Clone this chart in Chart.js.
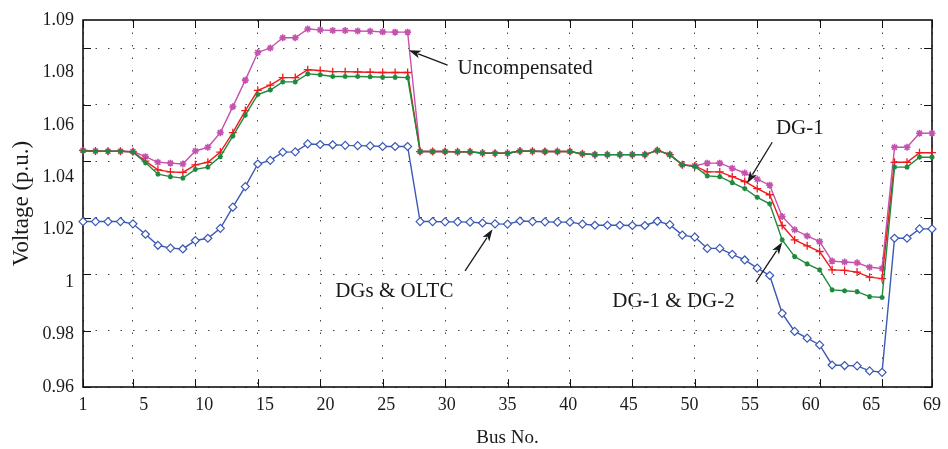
<!DOCTYPE html>
<html><head><meta charset="utf-8">
<script src="https://cdn.jsdelivr.net/npm/chart.js@4.4.1/dist/chart.umd.min.js"></script>
<style>html,body{margin:0;padding:0;background:#fff;}#wrap{width:948px;height:449px;}</style>
</head><body><div id="wrap"><canvas id="c" width="948" height="449"></canvas></div>
<script>
// ---- data ----
const buses = [1,2,3,4,5,6,7,8,9,10,11,12,13,14,15,16,17,18,19,20,21,22,23,24,25,26,27,28,29,30,
  31,32,33,34,35,36,37,38,39,40,41,42,43,44,45,46,47,48,49,50,51,52,53,54,55,56,57,58,59,60,
  61,62,63,64,65,66,67,68,69];

const uncompensated = [1.0438,1.0436,1.0435,1.0435,1.0434,1.0416,1.0396,1.0393,1.0390,1.0436,
  1.0449,1.0501,1.0593,1.0687,1.0785,1.0801,1.0837,1.0837,1.0868,1.0865,
  1.0863,1.0863,1.0861,1.0860,1.0858,1.0857,1.0857,1.0434,1.0434,1.0434,
  1.0433,1.0433,1.0429,1.0428,1.0428,1.0436,1.0435,1.0434,1.0434,1.0434,
  1.0426,1.0423,1.0423,1.0423,1.0423,1.0423,1.0438,1.0423,1.0387,1.0384,
  1.0393,1.0393,1.0375,1.0358,1.0336,1.0315,1.0204,1.0157,1.0135,1.0115,
  1.0046,1.0043,1.0040,1.0024,1.0020,1.0449,1.0449,1.0499,1.0499];

const dg1 = [1.0438,1.0436,1.0435,1.0435,1.0433,1.0400,1.0369,1.0362,1.0360,1.0387,
  1.0396,1.0432,1.0501,1.0579,1.0651,1.0669,1.0696,1.0696,1.0724,1.0721,
  1.0717,1.0717,1.0716,1.0715,1.0714,1.0714,1.0714,1.0434,1.0434,1.0434,
  1.0433,1.0433,1.0429,1.0428,1.0428,1.0436,1.0435,1.0434,1.0434,1.0434,
  1.0426,1.0423,1.0423,1.0423,1.0423,1.0423,1.0438,1.0423,1.0387,1.0383,
  1.0362,1.0362,1.0345,1.0328,1.0303,1.0281,1.0172,1.0121,1.0100,1.0080,
  1.0015,1.0013,1.0007,0.9989,0.9984,1.0396,1.0396,1.0430,1.0430];

const dg1dg2 = [1.0436,1.0435,1.0435,1.0435,1.0432,1.0395,1.0354,1.0345,1.0340,1.0371,
  1.0379,1.0416,1.0489,1.0563,1.0636,1.0652,1.0681,1.0681,1.0709,1.0706,
  1.0700,1.0700,1.0700,1.0699,1.0697,1.0697,1.0696,1.0434,1.0434,1.0434,
  1.0433,1.0433,1.0429,1.0428,1.0428,1.0436,1.0435,1.0434,1.0434,1.0434,
  1.0426,1.0423,1.0423,1.0423,1.0423,1.0423,1.0438,1.0423,1.0387,1.0381,
  1.0348,1.0345,1.0324,1.0303,1.0272,1.0249,1.0121,1.0062,1.0036,1.0015,
  0.9944,0.9941,0.9938,0.9920,0.9917,1.0379,1.0379,1.0414,1.0414];

const dgsOltc = [1.0186,1.0186,1.0186,1.0186,1.0178,1.0141,1.0102,1.0092,1.0089,1.0119,
  1.0127,1.0162,1.0237,1.0310,1.0390,1.0403,1.0432,1.0433,1.0461,1.0459,
  1.0458,1.0456,1.0455,1.0454,1.0452,1.0452,1.0452,1.0186,1.0186,1.0185,
  1.0185,1.0184,1.0181,1.0178,1.0177,1.0188,1.0186,1.0185,1.0184,1.0184,
  1.0177,1.0173,1.0173,1.0173,1.0172,1.0172,1.0187,1.0175,1.0138,1.0131,
  1.0091,1.0091,1.0070,1.0050,1.0021,0.9995,0.9861,0.9797,0.9773,0.9749,
  0.9678,0.9676,0.9675,0.9657,0.9652,1.0127,1.0127,1.0160,1.0160];

const xTickValues = [1,5,10,15,20,25,30,35,40,45,50,55,60,65,69];
const xTickLabels = ['1','5','10','15','20','25','30','35','40','45','50','55','60','65','69'];
const yTickValues = [0.96,0.98,1.00,1.02,1.04,1.06,1.08];
const yTickLabels = ['0.96','0.98','1','1.02','1.04','1.06','1.08','1.09'];

const notes = [
  {text:'Uncompensated', at:[31.0,1.0729], align:'left',  from:[30.2,1.0740], to:[27.1,1.0793]},
  {text:'DG-1',          at:[56.5,1.0517], align:'left',  from:[56.2,1.0467], to:[54.2,1.0322]},
  {text:'DG-1 & DG-2',   at:[53.2,0.9904], align:'right', from:[54.9,0.9972], to:[57.0,1.0113]},
  {text:'DGs & OLTC',    at:[21.2,0.9940], align:'left',  from:[31.6,1.0011], to:[33.8,1.0159]}
];

// ---- chart ----
const serif = '"Liberation Serif", "DejaVu Serif", serif';
const pts = arr => arr.map((v,i)=>({x:buses[i], y:v}));

const framePlugin = {
  id:'frame',
  beforeDatasetsDraw(chart){
    const {ctx, chartArea:{left,right,top,bottom}, scales:{x,y}} = chart;
    ctx.save();
    ctx.strokeStyle='#111'; ctx.lineWidth=1;
    ctx.beginPath();
    xTickValues.forEach(v=>{const px=Math.round(x.getPixelForValue(v))+0.5;
      ctx.moveTo(px,bottom); ctx.lineTo(px,bottom-8); ctx.moveTo(px,top); ctx.lineTo(px,top+8);});
    yTickValues.forEach(v=>{const py=Math.round(y.getPixelForValue(v))+0.5;
      ctx.moveTo(left,py); ctx.lineTo(left+8,py); ctx.moveTo(right,py); ctx.lineTo(right-8,py);});
    ctx.stroke();
    ctx.lineWidth=1.6;
    ctx.strokeRect(left,top,right-left,bottom-top);
    ctx.restore();
  },
  afterDatasetsDraw(chart){
    const {ctx, scales:{x,y}} = chart;
    ctx.save();
    ctx.font = '21px ' + serif;
    ctx.fillStyle='#1a1a1a'; ctx.strokeStyle='#1a1a1a'; ctx.lineWidth=1.3;
    ctx.textBaseline='middle';
    notes.forEach(n=>{
      ctx.textAlign = n.align;
      ctx.fillText(n.text, x.getPixelForValue(n.at[0]), y.getPixelForValue(n.at[1]));
      const x1=x.getPixelForValue(n.from[0]), y1=y.getPixelForValue(n.from[1]);
      const x2=x.getPixelForValue(n.to[0]),   y2=y.getPixelForValue(n.to[1]);
      const a=Math.atan2(y2-y1,x2-x1), L=12, W=4;
      const bx=x2-L*Math.cos(a), by=y2-L*Math.sin(a);
      ctx.beginPath(); ctx.moveTo(x1,y1); ctx.lineTo(bx+2*Math.cos(a),by+2*Math.sin(a)); ctx.stroke();
      ctx.beginPath(); ctx.moveTo(x2,y2);
      ctx.lineTo(bx+W*Math.sin(a), by-W*Math.cos(a));
      ctx.lineTo(x2-(L-3)*Math.cos(a), y2-(L-3)*Math.sin(a));
      ctx.lineTo(bx-W*Math.sin(a), by+W*Math.cos(a));
      ctx.closePath(); ctx.fill();
    });
    ctx.restore();
  }
};

const ds = (label,data,color,style,radius,bg,order,bw) => ({
  label, data:pts(data), borderColor:color, backgroundColor:bg||color,
  pointStyle:style, pointRadius:radius, pointBorderWidth:bw||1.2, pointBorderColor:color,
  pointBackgroundColor:bg||color, borderWidth:1.4, tension:0, clip:false, order,
  xAxisID:'x', yAxisID:'y'
});

new Chart(document.getElementById('c'), {
  type:'line',
  data:{datasets:[
    ds('DG-1 & DG-2', dg1dg2, '#1f8a3e', 'star', 2.6, null, 1, 1.4),
    ds('DG-1', dg1, '#f01a1e', 'cross', 4, null, 2, 1.3),
    ds('Uncompensated', uncompensated, '#c452ae', 'star', 3.5, null, 3, 1.6),
    ds('DGs & OLTC', dgsOltc, '#3b58b5', 'rectRot', 4, '#ffffff', 4, 1.2)
  ]},
  options:{
    responsive:false, animation:false, devicePixelRatio:1,
    layout:{padding:{top:20,right:15,left:0,bottom:0}},
    plugins:{legend:{display:false}, tooltip:{enabled:false}},
    scales:{
      x:{type:'linear', position:'bottom', min:1, max:69,
        afterBuildTicks:s=>{s.ticks=xTickValues.map(v=>({value:v}));},
        afterFit:s=>{s.height=0;},
        ticks:{display:false},
        grid:{color:'#444', lineWidth:1, drawTicks:false},
        border:{display:false, dash:[1.5,11]}},
      xLab:{type:'linear', position:'bottom', min:0, max:14,
        afterBuildTicks:s=>{s.ticks=xTickLabels.map((_,i)=>({value:i}));},
        afterFit:s=>{s.height=62;},
        ticks:{callback:(v,i)=>xTickLabels[i], padding:7, maxRotation:0, autoSkip:false,
          color:'#1a1a1a', font:{family:serif, size:18}},
        grid:{display:false, drawTicks:false}, border:{display:false},
        title:{display:true, text:'Bus No.', color:'#1a1a1a', font:{family:serif, size:19}, padding:{top:0,bottom:0}}},
      y:{type:'linear', position:'left', min:0.96, max:1.09,
        afterBuildTicks:s=>{s.ticks=yTickValues.map(v=>({value:v}));},
        afterFit:s=>{s.width=0;},
        ticks:{display:false},
        grid:{color:'#444', lineWidth:1, drawTicks:false},
        border:{display:false, dash:[1.5,11]}},
      yLab:{type:'linear', position:'left', min:0, max:7,
        afterBuildTicks:s=>{s.ticks=yTickLabels.map((_,i)=>({value:i}));},
        afterFit:s=>{s.width=83;},
        ticks:{callback:(v,i)=>yTickLabels[i], padding:9, autoSkip:false,
          color:'#1a1a1a', font:{family:serif, size:18}},
        grid:{display:false, drawTicks:false}, border:{display:false},
        title:{display:true, text:'Voltage (p.u.)', color:'#1a1a1a', font:{family:serif, size:23}, padding:{top:8,bottom:0}}}
    }
  },
  plugins:[framePlugin]
});
</script></body></html>
